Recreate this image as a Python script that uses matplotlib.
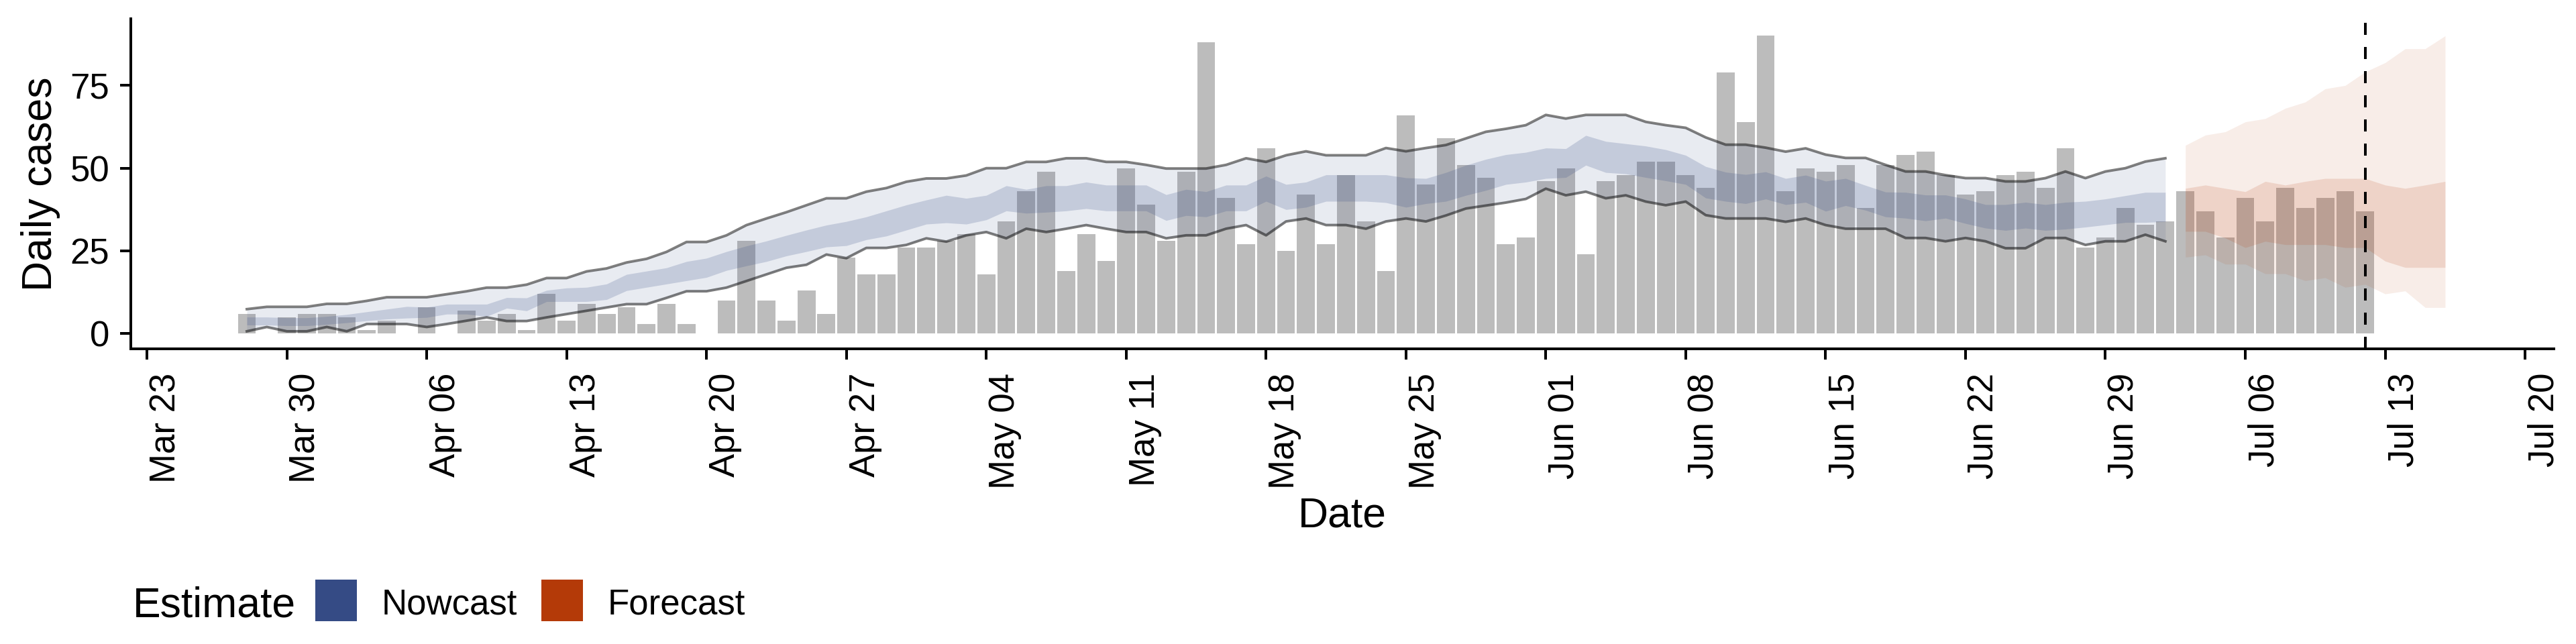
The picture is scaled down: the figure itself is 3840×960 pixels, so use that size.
import matplotlib
matplotlib.use("Agg")
import matplotlib.pyplot as plt
import matplotlib.dates as mdates
import matplotlib.transforms as mtransforms
from matplotlib.patches import Rectangle
import pandas as pd

plt.rcParams['font.family'] = ['Liberation Sans', 'DejaVu Sans']

# reported daily cases, one value per day starting at case_start
case_start = "2020-03-28"
cases = [6, 0, 5, 6,
         6, 5, 1, 4, 0, 8, 0, 7, 4, 6, 1, 12, 4, 9, 6, 8, 3, 9, 3, 0, 10, 28, 10, 4, 13, 6, 23, 18, 18, 26,
         26, 28, 30, 18, 34, 43, 49, 19, 30, 22, 50, 39, 28, 49, 88, 41, 27, 56, 25, 42, 27, 48, 34, 19, 66,
         45, 59, 51, 47, 27, 29,
         46, 50, 24, 46, 48, 52, 52, 48, 44, 79, 64, 90, 43, 50, 49, 51, 38, 51, 54, 55, 48, 42, 43, 48, 49,
         44, 56, 26, 29, 38,
         33, 34, 43, 37, 29, 41, 34, 44, 38, 41, 43, 37]

# nowcast credible intervals, one value per day starting at nowcast_start
nowcast_start = "2020-03-28"
nowcast_upper90 = [7.4, 8.1, 8.1, 8.1, 9.0, 9.0, 9.9, 11.0, 11.0, 11.0, 11.9, 12.8, 13.9, 13.9, 14.8, 16.8,
                   16.8, 18.8, 19.7, 21.5, 22.6, 24.7, 27.7, 27.7, 29.7, 32.8, 34.8, 36.7, 38.8, 40.9, 40.9, 42.9,
                   44.0, 45.9, 46.9, 46.9, 47.8, 50.0, 50.0, 51.9, 51.9, 53.0, 53.0, 51.9, 51.9, 51.0, 49.9, 49.9,
                   49.9, 51.0, 53.0, 51.9, 53.9, 55.1, 53.9, 53.9, 53.9, 56.1, 55.1, 56.1, 57.0, 59.0, 61.0, 61.9,
                   63.0, 66.1, 65.0, 66.1, 66.1, 66.1, 64.0, 63.0,
                   62.2, 59.3, 57.1, 57.1, 56.2, 55.0, 56.0, 54.1, 53.1, 53.1, 51.0, 49.0, 49.0, 47.9, 47.0, 47.0,
                   46.0, 46.0, 47.0, 49.0, 47.0, 49.0, 50.0, 52.0, 53.0]
nowcast_lower90 = [0.7, 2.0, 0.7, 0.7, 2.0, 0.7, 2.9, 2.9, 2.9, 2.0, 2.9, 3.9, 4.9, 3.8, 3.8, 4.9,
                   5.9, 6.9, 7.9, 8.9, 8.9, 10.8, 12.8, 12.8, 13.9, 15.9, 17.9, 19.9, 20.8, 23.9, 22.8, 25.9,
                   25.9, 26.8, 28.8, 27.8, 29.7, 30.7, 28.8, 31.7, 30.7, 31.7, 32.8, 31.7, 30.7, 30.7, 28.8, 29.7,
                   29.7, 31.7, 32.8, 29.7, 33.9, 34.8, 32.8, 32.8, 31.7, 33.9, 34.8, 33.9, 35.7, 37.8, 38.7, 39.6,
                   40.7, 43.8, 41.8, 42.9, 40.9, 41.8, 39.9, 38.8,
                   39.9, 35.8, 34.8, 34.8, 34.8, 33.8, 34.8, 32.8, 31.7, 31.7, 31.7, 28.9, 28.9, 27.9, 28.9, 27.9,
                   25.8, 25.8, 28.9, 28.9, 26.8, 27.9, 27.9, 29.9, 27.9]
nowcast_upper50 = [5.0, 5.0, 4.8, 4.8, 5.2, 5.8, 6.6, 7.4, 8.2, 8.0, 8.9, 8.9, 8.9, 10.9, 10.8, 13.1,
                   13.8, 14.0, 15.0, 17.9, 18.9, 19.9, 21.8, 22.8, 24.8, 26.5, 28.0, 29.7, 31.3, 32.8, 33.9, 35.3,
                   37.1, 38.9, 40.4, 41.8, 40.9, 41.8, 44.7, 43.6, 44.7, 44.7, 45.8, 44.9, 44.9, 44.9, 42.0, 43.6,
                   42.9, 44.9, 44.9, 47.6, 45.1, 45.8, 48.0, 48.0, 48.0, 48.0, 47.1, 46.9, 48.7, 50.9, 52.7, 54.1,
                   54.8, 56.1, 55.9, 59.9, 58.1, 57.4, 56.7, 55.6,
                   53.9, 50.5, 48.8, 48.1, 48.9, 46.9, 47.9, 46.1, 46.9, 44.8, 42.8, 42.7, 41.9, 41.9, 40.7, 39.0,
                   39.0, 39.7, 39.0, 39.7, 40.0, 40.7, 41.7, 42.7, 42.7]
nowcast_lower50 = [2.6, 2.6, 2.4, 2.4, 2.8, 3.3, 3.9, 4.4, 4.7, 4.9, 5.9, 5.9, 5.2, 7.7, 6.9, 9.7,
                   9.7, 9.7, 10.3, 13.0, 14.0, 15.0, 16.0, 17.0, 19.1, 20.5, 21.8, 23.5, 24.8, 26.2, 26.6, 28.4,
                   29.5, 31.3, 33.1, 33.5, 33.1, 34.4, 37.1, 36.4, 36.7, 37.1, 37.8, 37.1, 37.1, 37.1, 34.2, 35.7,
                   35.3, 37.1, 37.1, 40.0, 37.5, 38.2, 40.0, 40.0, 40.0, 39.6, 38.2, 39.3, 40.0, 41.8, 43.3, 45.1,
                   45.8, 46.9, 47.2, 50.9, 48.7, 48.3, 47.2, 46.2,
                   45.1, 41.0, 40.0, 39.3, 40.7, 39.0, 39.7, 37.0, 38.7, 37.3, 35.3, 34.9, 34.1, 34.9, 33.3, 31.9,
                   31.2, 31.9, 31.2, 31.6, 32.2, 32.9, 33.6, 33.6, 33.9]

# forecast credible intervals, one value per day starting at forecast_start
forecast_start = "2020-07-03"
forecast_upper90 = [56.9, 60.0, 61.0, 64.0, 65.0, 68.1, 70.0, 74.0, 75.0, 79.1, 81.9, 86.1, 86.1, 90.0]
forecast_lower90 = [23.1, 23.8, 21.0, 21.0, 18.1, 18.1, 16.0, 16.9, 14.0, 14.9, 12.0, 12.9, 7.9, 7.9]
forecast_upper50 = [43.9, 44.9, 43.9, 42.9, 46.0, 44.9, 46.0, 46.9, 46.9, 46.9, 44.9, 43.9, 44.9, 46.0]
forecast_lower50 = [30.9, 30.9, 28.9, 26.0, 27.9, 26.9, 26.9, 26.9, 26.0, 26.0, 21.9, 20.0, 20.0, 20.0]

report_date = "2020-07-12"
tick_start = "2020-03-23"
tick_end = "2020-07-20"
y_ticks = [0, 25, 50, 75]

nowcast_col = "#354B85"
forecast_col = "#B43A08"
bar_col = "#BCBCBC"

case_dates = pd.date_range(case_start, periods=len(cases))
now_dates = pd.date_range(nowcast_start, periods=len(nowcast_upper90))
fc_dates = pd.date_range(forecast_start, periods=len(forecast_upper90))

W, H, DPI = 3840, 960, 200
fig = plt.figure(figsize=(W / DPI, H / DPI), dpi=DPI)
ax = fig.add_axes([195 / W, 1 - 520 / H, (3807 - 195) / W, (520 - 28.5) / H])

ax.bar(case_dates, cases, width=0.9, color=bar_col, zorder=1)

ax.fill_between(now_dates, nowcast_lower90, nowcast_upper90, color=nowcast_col, alpha=0.11, lw=0, zorder=2)
ax.fill_between(now_dates, nowcast_lower50, nowcast_upper50, color=nowcast_col, alpha=0.2, lw=0, zorder=2)
ax.fill_between(fc_dates, forecast_lower90, forecast_upper90, color=forecast_col, alpha=0.09, lw=0, zorder=2)
ax.fill_between(fc_dates, forecast_lower50, forecast_upper50, color=forecast_col, alpha=0.14, lw=0, zorder=2)

ax.plot(now_dates, nowcast_upper90, color="black", alpha=0.5, lw=1.4, zorder=3)
ax.plot(now_dates, nowcast_lower90, color="black", alpha=0.5, lw=1.4, zorder=3)

ax.axvline(pd.Timestamp(report_date), color="black", lw=1.44, ls=(0, (4.5, 4.5)), zorder=4)

t0 = pd.Timestamp(tick_start)
ax.set_xlim(t0 - pd.Timedelta(days=0.806), t0 + pd.Timedelta(days=120.44))
ax.set_ylim(-4.6, 95.05)

ticks = pd.date_range(tick_start, tick_end, freq="7D")
ax.set_xticks(ticks)
ax.xaxis.set_major_formatter(mdates.DateFormatter("%b %d"))
ax.set_yticks(y_ticks)

ax.spines["top"].set_visible(False)
ax.spines["right"].set_visible(False)
ax.spines["left"].set_linewidth(1.44)
ax.spines["bottom"].set_linewidth(1.44)
ax.tick_params(axis="both", length=5.6, width=1.44, labelsize=19, colors="black")
ax.tick_params(axis="y", pad=5.8)
ax.tick_params(axis="x", pad=7.2)

shift = mtransforms.ScaledTranslation(42 / DPI, 0, fig.dpi_scale_trans)
for lab in ax.get_xticklabels():
    lab.set_rotation(90)
    lab.set_rotation_mode("anchor")
    lab.set_ha("right")
    lab.set_va("baseline")
    lab.set_transform(lab.get_transform() + shift)

fig.text(77 / W, 1 - 274 / H, "Daily cases", rotation=90, rotation_mode="anchor",
         ha="center", va="baseline", fontsize=22.5)
fig.text(2001 / W, 1 - 785 / H, "Date", ha="center", va="baseline", fontsize=22.5)

# legend, drawn by hand to sit like the ggplot bottom legend
fig.text(198 / W, 1 - 919 / H, "Estimate", ha="left", va="baseline", fontsize=22.5)
for x0, col, name in [(470, nowcast_col, "Nowcast"), (807, forecast_col, "Forecast")]:
    fig.patches.append(Rectangle((x0 / W, 1 - 926 / H), 62 / W, 62 / H, transform=fig.transFigure,
                                 facecolor=col, edgecolor="none"))
    fig.text((x0 + 99) / W, 1 - 916 / H, name, ha="left", va="baseline", fontsize=19)

fig.savefig("out.png", dpi=DPI)
